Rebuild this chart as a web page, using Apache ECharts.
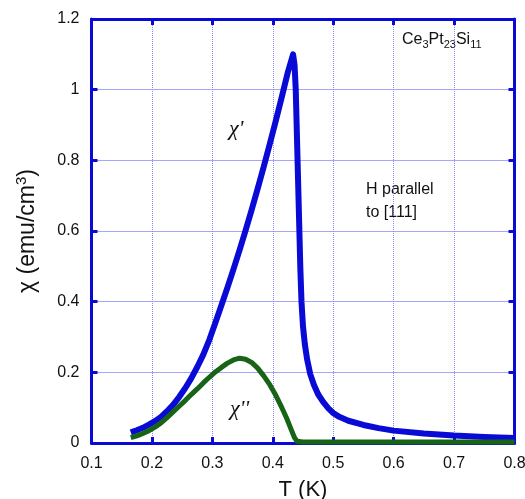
<!DOCTYPE html>
<html>
<head>
<meta charset="utf-8">
<script src="https://cdn.jsdelivr.net/npm/echarts@6/dist/echarts.min.js"></script>
<style>html,body{margin:0;padding:0;background:#fff;}#c{width:525px;height:499px;}</style>
</head>
<body>
<div id="c"></div>
<script>
// Temperature (K) and susceptibility values
const chiRealT = [0.165,0.175,0.185,0.195,0.205,0.215,0.225,0.235,0.245,0.255,0.265,0.275,0.285,0.295,0.305,0.315,0.325,0.335,0.345,0.355,0.365,0.375,0.385,0.395,0.405,0.415,0.425,0.4336,
  0.436,0.438,0.4395,0.441,0.4425,0.444,0.4455,0.4475,0.45,0.453,0.457,0.462,0.468,0.475,0.483,0.492,0.5,0.51,0.525,0.55,0.575,0.6,0.65,0.7,0.75,0.8];
const chiRealV = [0.03,0.036,0.043,0.052,0.062,0.074,0.09,0.108,0.13,0.155,0.183,0.215,0.25,0.292,0.34,0.39,0.44,0.492,0.546,0.602,0.66,0.72,0.782,0.846,0.912,0.98,1.05,1.1,
  1.07,1.0,0.9,0.8,0.7,0.6,0.5,0.4,0.33,0.28,0.235,0.195,0.165,0.138,0.117,0.098,0.085,0.074,0.063,0.051,0.042,0.035,0.027,0.021,0.017,0.014];
const chiImagT = [0.165,0.175,0.185,0.195,0.205,0.215,0.225,0.235,0.245,0.255,0.265,0.275,0.285,0.295,0.305,0.315,0.325,0.335,0.345,0.355,0.365,0.375,0.385,0.395,0.405,0.415,0.423,0.43,0.436,0.44,0.45,0.6,0.8];
const chiImagV = [0.015,0.02,0.027,0.035,0.045,0.057,0.072,0.088,0.104,0.12,0.137,0.153,0.17,0.186,0.201,0.214,0.226,0.235,0.24,0.237,0.228,0.212,0.19,0.165,0.135,0.1,0.07,0.04,0.015,0.005,0.003,0.003,0.003];
const xTicks = {min:0.1, max:0.8, step:0.1};
const yTicks = {min:0, max:1.2, step:0.2};

const blue = '#0a0ad6';
const green = '#176417';
const gridColor = '#8686fa';
const pair = (xs, ys) => xs.map((x, i) => [x, ys[i]]);

const chart = echarts.init(document.getElementById('c'));
const axisCommon = () => ({
  type: 'value',
  axisLine: {show: true, onZero: false, lineStyle: {color: blue, width: 3}},
  axisTick: {show: true, inside: true, length: 6, lineStyle: {color: blue, width: 3}},
  splitLine: {show: true, lineStyle: {color: gridColor, width: 1, type: [1, 1], opacity: 1}},
  minorSplitLine: {show: false},
  minorTick: {show: false}
});
chart.setOption({
  animation: false,
  grid: {left: 91.5, right: 10.5, top: 19, bottom: 56, containLabel: false, outerBoundsMode: 'none'},
  xAxis: [
    Object.assign(axisCommon(), {
      position: 'bottom', min: xTicks.min, max: xTicks.max, interval: xTicks.step,
      name: 'T (K)', nameLocation: 'middle', nameGap: 36,
      nameTextStyle: {fontFamily: 'Liberation Sans', fontSize: 22, color: '#111'},
      axisLabel: {fontFamily: 'Liberation Sans', fontSize: 16, color: '#111', margin: 13}
    }),
    Object.assign(axisCommon(), {
      position: 'top', min: xTicks.min, max: xTicks.max, interval: xTicks.step,
      axisLabel: {show: false}
    })
  ],
  yAxis: [
    Object.assign(axisCommon(), {
      position: 'left', min: yTicks.min, max: yTicks.max, interval: yTicks.step,
      name: 'χ (emu/cm{sup|3})', nameLocation: 'middle', nameGap: 50,
      nameTextStyle: {fontFamily: 'Liberation Sans', fontSize: 23, color: '#111',
        rich: {sup: {fontFamily: 'Liberation Sans', fontSize: 15, color: '#111', verticalAlign: 'top', padding: [0,0,12,0]}}},
      axisLabel: {fontFamily: 'Liberation Sans', fontSize: 16, color: '#111', margin: 12}
    }),
    Object.assign(axisCommon(), {
      position: 'right', min: yTicks.min, max: yTicks.max, interval: yTicks.step,
      axisLabel: {show: false}
    })
  ],
  series: [
    {
      type: 'line', name: "χ'", data: pair(chiRealT, chiRealV), showSymbol: false,
      smooth: false,
      lineStyle: {color: blue, width: 6, join: 'round'}, z: 3
    },
    {
      type: 'line', name: "χ''", data: pair(chiImagT, chiImagV), showSymbol: false,
      smooth: false,
      lineStyle: {color: green, width: 5, join: 'round'}, z: 4
    }
  ],
  graphic: [
    {type: 'text', left: 402, top: 32, style: {
      text: 'Ce{s|3}Pt{s|23}Si{s|11}', fill: '#111', font: '16px "Liberation Sans"',
      rich: {s: {fontSize: 11, fontFamily: 'Liberation Sans', fill: '#111', padding: [9,0,0,0]}}
    }},
    {type: 'text', left: 366, top: 178, style: {
      text: 'H parallel\nto [111]', fill: '#111', font: '16px "Liberation Sans"', lineHeight: 23
    }},
    {type: 'text', left: 229, top: 118, style: {
      text: "χ'", fill: '#111', font: 'italic 22px "Liberation Serif"'
    }},
    {type: 'text', left: 230, top: 398, style: {
      text: "χ''", fill: '#111', font: 'italic 22px "Liberation Serif"'
    }}
  ]
});
</script>
</body>
</html>
